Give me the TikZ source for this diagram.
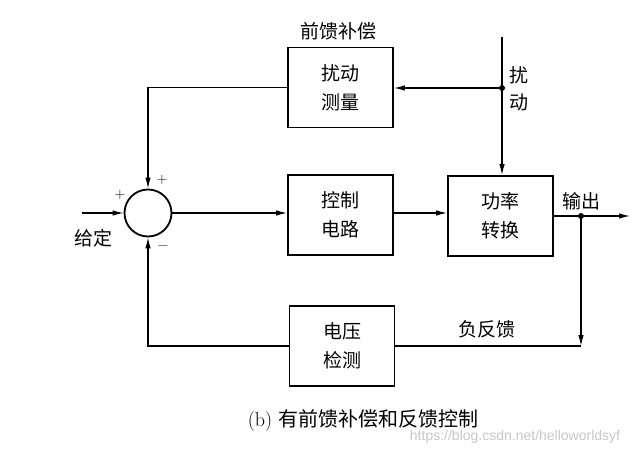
\documentclass[tikz,border=0pt]{standalone}
\usepackage{fontspec}
\newfontfamily\cjk{Noto Sans CJK SC}
\newfontfamily\wmfont{Liberation Sans}
\usetikzlibrary{arrows.meta}
\tikzset{
  blk/.style={draw, line width=1.8pt, minimum width=105pt, minimum height=80pt, align=center, inner sep=0pt},
  conn/.style={line width=1.2pt},
  arr/.style={conn, -{Latex[length=11pt,width=5.5pt]}},
  jdot/.style={circle, fill, inner sep=0pt, minimum size=6pt},
  sgn/.style={font=\fontsize{15}{15}\selectfont},
  lbl/.style={font=\cjk\fontsize{19}{19}\selectfont}
}
\begin{document}
\begin{tikzpicture}[x=1pt,y=-1pt,font=\cjk\fontsize{19}{29}\selectfont]
\useasboundingbox (0,0) rectangle (644,449);
\fill[white] (0,0) rectangle (644,449);
% blocks
\node[blk] (meas) at (340.5,87.5) {扰动\\测量};
\node[blk] (ctrl) at (340.5,215) {控制\\电路};
\node[blk] (pwr) at (500.5,216) {功率\\转换};
\node[blk] (volt) at (342,346) {电压\\检测};
\node[draw, circle, line width=1.8pt, minimum size=47pt, inner sep=0pt] (sum) at (148,213) {};
% coordinates
\coordinate (in) at (82,213);
\coordinate (dtop) at (502,37);
\coordinate (dj) at (502,88);
\coordinate (oj) at (581,216);
\coordinate (out) at (630,216);
\coordinate (fb) at (581,346);
% connectors
\draw[arr] (in) -- (sum.west);
\draw[arr] (sum.east) -- (sum.east -| ctrl.west);
\draw[arr] (ctrl.east |- sum.east) -- (ctrl.east |- sum.east -| pwr.west);
\draw[arr] (dtop) -- (dtop |- pwr.north);
\draw[arr] (dj) -- (dj -| meas.east);
\draw[arr] (meas.west) -| (sum.north);
\draw[arr] (pwr.east) -- (out);
\draw[arr] (oj) -- (fb);
\draw[conn] (fb) -- (volt.east);
\draw[arr] (volt.west) -| (sum.south);
\node[jdot] at (dj) {};
\node[jdot] at (oj) {};
% labels
\node[sgn] at (120,195) {+};
\node[sgn] at (162,180) {+};
\node[sgn] at (163,247) {\textminus};
\node[lbl] at (93,238) {给定};
\node[lbl] at (338,31) {前馈补偿};
\node[lbl] at (519,75) {扰};
\node[lbl] at (519,102) {动};
\node[lbl] at (581,201) {输出};
\node[lbl] at (487,329) {负反馈};
\node[font=\fontsize{20}{20}\selectfont] at (363,421) {(b) {\cjk 有前馈补偿和反馈控制}};
\node[font=\wmfont\fontsize{14}{14}\selectfont, text=black!22] at (515,437) {https://blog.csdn.net/helloworldsyf};
\end{tikzpicture}
\end{document}
